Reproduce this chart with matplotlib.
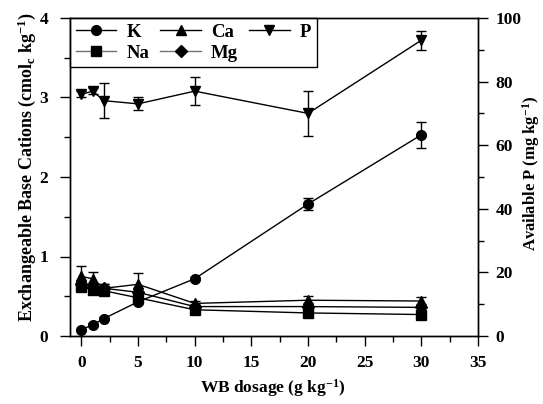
import matplotlib
matplotlib.use("Agg")
import matplotlib.pyplot as plt
from matplotlib.ticker import MultipleLocator
from matplotlib.lines import Line2D

plt.rcParams['font.family'] = ['Liberation Serif', 'DejaVu Serif']
plt.rcParams['font.weight'] = 'bold'
plt.rcParams['mathtext.fontset'] = 'custom'
plt.rcParams['mathtext.rm'] = 'Liberation Serif:bold'
plt.rcParams['mathtext.it'] = 'Liberation Serif:bold'
plt.rcParams['mathtext.bf'] = 'Liberation Serif:bold'

dosage = [0, 1, 2, 5, 10, 20, 30]
K = [0.08, 0.14, 0.22, 0.43, 0.72, 1.66, 2.53]
K_err = [0.01, 0.02, 0.02, 0.03, 0.02, 0.08, 0.16]
Ca = [0.75, 0.72, 0.60, 0.65, 0.41, 0.45, 0.44]
Ca_err = [0.13, 0.08, 0.05, 0.14, 0.03, 0.05, 0.05]
Na = [0.62, 0.58, 0.57, 0.48, 0.33, 0.29, 0.27]
Na_err = [0.04, 0.04, 0.04, 0.05, 0.03, 0.03, 0.03]
Mg = [0.65, 0.62, 0.60, 0.55, 0.37, 0.37, 0.36]
Mg_err = [0.05, 0.05, 0.05, 0.05, 0.03, 0.04, 0.04]
P = [76, 77, 74, 73, 77, 70, 93]
P_err = [1.0, 1.0, 5.5, 2.0, 4.5, 7.0, 3.0]

fig = plt.figure(figsize=(5.43, 4.04), dpi=100)
ax = fig.add_axes([70/543, 68/404, 408/543, 318/404])
ax2 = ax.twinx()

common = dict(color='black', lw=1.0, ms=7, capsize=3.5, elinewidth=1.0, capthick=1.0)
ax.errorbar(dosage, K, yerr=K_err, marker='o', **common)
ax.errorbar(dosage, Na, yerr=Na_err, marker='s', **dict(common, ms=6.5))
ax.errorbar(dosage, Mg, yerr=Mg_err, marker='D', **dict(common, ms=6))
ax.errorbar(dosage, Ca, yerr=Ca_err, marker='^', **dict(common, ms=7.5))
ax2.errorbar(dosage, P, yerr=P_err, marker='v', **dict(common, ms=7.5))

ax.set_xlim(-1, 35)
ax.set_ylim(0, 4)
ax2.set_ylim(0, 100)

ax.xaxis.set_major_locator(MultipleLocator(5))
ax.xaxis.set_minor_locator(MultipleLocator(2.5))
ax.yaxis.set_major_locator(MultipleLocator(1))
ax.yaxis.set_minor_locator(MultipleLocator(0.5))
ax2.yaxis.set_major_locator(MultipleLocator(20))
ax2.yaxis.set_minor_locator(MultipleLocator(10))

for a in (ax, ax2):
    a.tick_params(which='major', direction='out', length=7, width=1, labelsize=12.5)
    a.tick_params(which='minor', direction='out', length=4, width=1)
    for s in a.spines.values():
        s.set_linewidth(1.0)
ax.tick_params(axis='x', which='major', pad=6.5)
ax.tick_params(axis='y', which='major', pad=8.5)
ax2.tick_params(axis='y', which='major', pad=5.5)
ax.tick_params(axis='both', top=False)

for lab in ax.get_xticklabels() + ax.get_yticklabels() + ax2.get_yticklabels():
    lab.set_fontweight('bold')

ax.set_xlabel(r'WB dosage (g kg$^{-1}$)', fontsize=12.5, fontweight='bold')
ax.set_ylabel(r'Exchangeable Base Cations (cmol$_c$ kg$^{-1}$)', fontsize=13, fontweight='bold')
ax2.set_ylabel(r'Available P (mg kg$^{-1}$)', fontsize=12, fontweight='bold')
ax.xaxis.set_label_coords(0.496, -0.128)
ax.yaxis.set_label_coords(-0.078, 0.53)
ax2.yaxis.set_label_coords(1.103, 0.51)

handles = [
    Line2D([], [], color='black', lw=1, marker='o', ms=7, label='K'),
    Line2D([], [], color='0.45', lw=1, marker='s', ms=6.5, mfc='black', mec='black', label='Na'),
    Line2D([], [], color='black', lw=1, marker='^', ms=7.5, label='Ca'),
    Line2D([], [], color='0.45', lw=1, marker='D', ms=6, mfc='black', mec='black', label='Mg'),
    Line2D([], [], color='black', lw=1, marker='v', ms=7.5, label='P'),
]
leg = ax.legend(handles=handles, ncol=3, loc='upper left', bbox_to_anchor=(0, 1),
                frameon=True, fancybox=False, edgecolor='black', framealpha=1,
                prop={'family': 'Liberation Serif', 'weight': 'bold', 'size': 13.5},
                borderpad=0.3, handlelength=2.15, handletextpad=0.55, columnspacing=0.6,
                labelspacing=0.2, borderaxespad=0)
leg.get_frame().set_linewidth(1.0)
leg.set_zorder(10)

fig.savefig('out.png', dpi=100)
